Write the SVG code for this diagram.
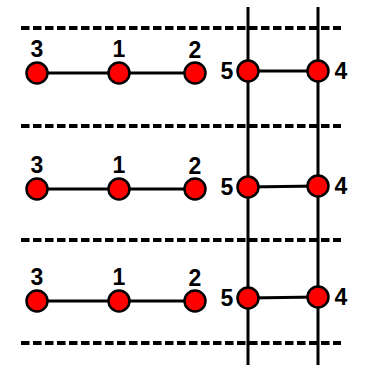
<svg xmlns="http://www.w3.org/2000/svg" width="367" height="365" viewBox="0 0 367 365">
<style>
.dash{stroke:#000;stroke-width:4;stroke-dasharray:8.5 3.5;fill:none}
.vl{stroke:#000;stroke-width:3;fill:none}
.e{stroke:#000;stroke-width:3;fill:none}
.n{fill:#ff0000;stroke:#000;stroke-width:2.5}
.t{font-family:"Liberation Sans",Arial,sans-serif;font-weight:bold;font-size:23px;fill:#000;text-anchor:middle}
</style>
<rect width="367" height="365" fill="#fff"/>
<g id="guides">
<line class="dash" x1="21" y1="28" x2="341" y2="28"/>
<line class="dash" x1="21" y1="126" x2="341" y2="126"/>
<line class="dash" x1="21" y1="240" x2="341" y2="240"/>
<line class="dash" x1="21" y1="343" x2="341" y2="343"/>
<line class="vl" x1="248" y1="7" x2="248" y2="365"/>
<line class="vl" x1="318" y1="7" x2="318" y2="365"/>
</g>
<g id="connectors">
<line class="e" x1="37" y1="73" x2="195" y2="73"/>
<line class="e" x1="248" y1="71" x2="318" y2="71"/>
<line class="e" x1="37" y1="189" x2="195" y2="189"/>
<line class="e" x1="248" y1="187" x2="318" y2="186"/>
<line class="e" x1="37" y1="301" x2="195" y2="301"/>
<line class="e" x1="248" y1="298" x2="318" y2="297"/>
</g>
<g id="r1n3"><circle class="n" cx="37" cy="73" r="10.5"/><text class="t" x="37" y="57">3</text></g>
<g id="r1n1"><circle class="n" cx="119" cy="73" r="10.5"/><text class="t" x="119" y="57">1</text></g>
<g id="r1n2"><circle class="n" cx="195" cy="73" r="10.5"/><text class="t" x="195" y="58">2</text></g>
<g id="r1n5"><circle class="n" cx="248" cy="71" r="10.5"/><text class="t" x="227" y="79">5</text></g>
<g id="r1n4"><circle class="n" cx="318" cy="71" r="10.5"/><text class="t" x="341" y="79">4</text></g>
<g id="r2n3"><circle class="n" cx="37" cy="189" r="10.5"/><text class="t" x="37" y="173">3</text></g>
<g id="r2n1"><circle class="n" cx="119" cy="189" r="10.5"/><text class="t" x="119" y="173">1</text></g>
<g id="r2n2"><circle class="n" cx="195" cy="189" r="10.5"/><text class="t" x="195" y="174">2</text></g>
<g id="r2n5"><circle class="n" cx="248" cy="187" r="10.5"/><text class="t" x="227" y="195">5</text></g>
<g id="r2n4"><circle class="n" cx="318" cy="186" r="10.5"/><text class="t" x="341" y="194">4</text></g>
<g id="r3n3"><circle class="n" cx="37" cy="301" r="10.5"/><text class="t" x="37" y="285">3</text></g>
<g id="r3n1"><circle class="n" cx="119" cy="301" r="10.5"/><text class="t" x="119" y="285">1</text></g>
<g id="r3n2"><circle class="n" cx="195" cy="301" r="10.5"/><text class="t" x="195" y="286">2</text></g>
<g id="r3n5"><circle class="n" cx="248" cy="298" r="10.5"/><text class="t" x="227" y="306">5</text></g>
<g id="r3n4"><circle class="n" cx="318" cy="297" r="10.5"/><text class="t" x="341" y="305">4</text></g>
</svg>
